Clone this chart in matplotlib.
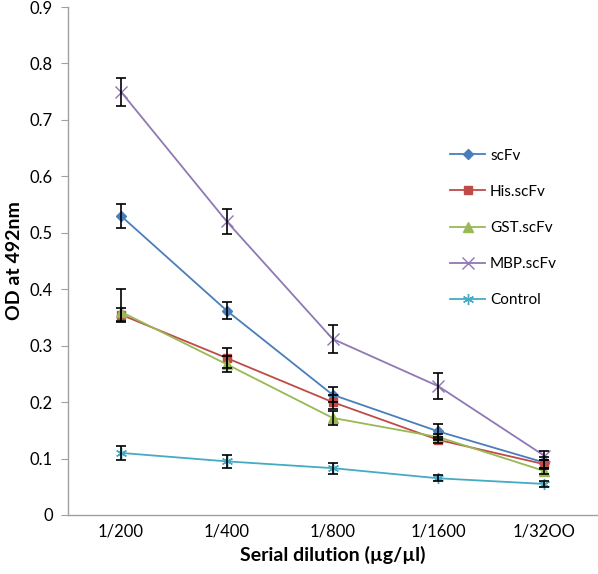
import matplotlib
matplotlib.use("Agg")
import matplotlib.pyplot as plt
import numpy as np

plt.rcParams['font.family'] = ['Lato', 'DejaVu Sans']

categories = ["1/200", "1/400", "1/800", "1/1600", "1/32OO"]
scfv = [0.530, 0.362, 0.213, 0.148, 0.093]
his_scfv = [0.355, 0.278, 0.200, 0.133, 0.090]
gst_scfv = [0.360, 0.267, 0.172, 0.138, 0.078]
mbp_scfv = [0.750, 0.520, 0.312, 0.228, 0.105]
control = [0.110, 0.095, 0.083, 0.065, 0.055]

scfv_err = [0.021, 0.015, 0.013, 0.014, 0.010]
his_err = [0.012, 0.018, 0.012, 0.006, 0.008]
gst_err_low = [0.018, 0.014, 0.013, 0.006, 0.006]
gst_err_high = [0.040, 0.014, 0.013, 0.006, 0.006]
mbp_err = [0.025, 0.022, 0.025, 0.023, 0.008]
control_err = [0.013, 0.012, 0.010, 0.005, 0.005]

series = [
    ("scFv", scfv, scfv_err, "#4a7ebb", "D", 5),
    ("His.scFv", his_scfv, his_err, "#be4b48", "s", 6),
    ("GST.scFv", gst_scfv, [gst_err_low, gst_err_high], "#98b954", "^", 6.5),
    ("MBP.scFv", mbp_scfv, mbp_err, "#8f78b5", "x", 9),
    ("Control", control, control_err, "#46aac5", (6, 2, 0), 8),
]

fig = plt.figure(figsize=(5.98, 5.74), dpi=100)
ax = fig.add_axes([0.1137, 0.1028, 0.885, 0.885])
x = np.arange(len(categories))

handles = []
for name, vals, errs, col, mk, ms in series:
    ax.errorbar(x, vals, yerr=errs, fmt='none', ecolor='black', elinewidth=1.2,
                capsize=3.5, capthick=1.2, zorder=3)
    h, = ax.plot(x, vals, color=col, lw=1.3, marker=mk, markersize=ms,
                 markeredgecolor=col, markerfacecolor=col, markeredgewidth=1.0,
                 label=name, zorder=2)
    handles.append(h)

ax.set_xlim(-0.5, 4.5)
ax.set_ylim(0, 0.9)
ax.set_yticks(np.arange(0, 0.91, 0.1))
ax.set_yticklabels(["0"] + [f"{v:.1f}" for v in np.arange(0.1, 0.91, 0.1)])
ax.set_xticks(x)
ax.set_xticklabels(categories)

for s in ['top', 'right']:
    ax.spines[s].set_visible(False)
for s in ['left', 'bottom']:
    ax.spines[s].set_color('#a0a0a0')
    ax.spines[s].set_linewidth(1.0)
ax.tick_params(axis='y', length=5, color='#a0a0a0', labelsize=12, pad=6)
ax.tick_params(axis='x', length=0, labelsize=12, pad=6)

ax.set_ylabel("OD at 492nm", fontsize=14, fontweight='bold', labelpad=5)
ax.set_xlabel("Serial dilution (µg/µl)", fontsize=14, fontweight='bold', labelpad=5)

leg = fig.legend(handles=handles, loc='upper left', bbox_to_anchor=(0.73, 0.765),
                 frameon=False, fontsize=11, labelspacing=1.45, handlelength=2.3,
                 handletextpad=0.3)

fig.savefig("out.png", dpi=100)
